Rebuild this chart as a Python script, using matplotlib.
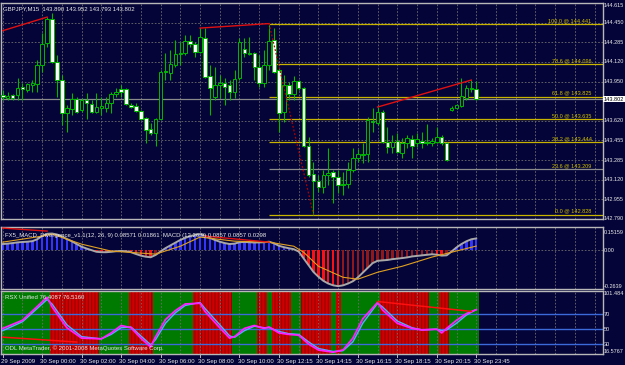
import numpy as np
import matplotlib.pyplot as plt
from matplotlib.patches import Rectangle
from matplotlib.transforms import blended_transform_factory as blend

# ---- price data (GBPJPY M15), one row per bar ----
opens = [143.837, 143.812, 143.837, 143.837, 143.905, 143.879, 143.922, 143.930, 144.091, 144.277,
         144.479, 144.116, 143.964, 143.685, 143.719, 143.803, 143.710, 143.795, 143.761, 143.694,
         143.727, 143.727, 143.770, 143.846, 143.888, 143.888, 143.753, 143.744, 143.702, 143.643,
         143.550, 143.516, 143.634, 144.040, 144.023, 144.091, 144.184, 144.192, 144.294, 144.268,
         144.201, 144.319, 143.998, 143.820, 143.922, 143.939, 143.922, 143.863, 143.981, 144.226,
         144.192, 144.192, 144.074, 143.939, 144.091, 144.302, 144.048, 143.694, 143.922, 143.846,
         143.956, 143.896, 143.406, 143.170, 143.111, 143.060, 143.161, 143.187, 143.144, 143.085,
         143.085, 143.203, 143.305, 143.330, 143.339, 143.618, 143.601, 143.694, 143.440, 143.398,
         143.449, 143.347, 143.432, 143.465, 143.432, 143.449, 143.440, 143.432, 143.440, 143.482,
         143.432, 143.710, 143.727, 143.744, 143.812, 143.888, 143.890]
highs = [143.879, 143.863, 143.846, 143.981, 143.939, 143.939, 143.964, 144.133, 144.361, 144.496,
         144.530, 144.175, 144.006, 143.753, 143.854, 143.820, 143.812, 143.854, 143.795, 143.854,
         143.820, 143.820, 143.863, 143.896, 143.922, 143.896, 143.770, 143.770, 143.710, 143.651,
         143.601, 143.643, 144.048, 144.192, 144.217, 144.302, 144.285, 144.344, 144.344, 144.285,
         144.403, 144.403, 144.091, 144.074, 144.006, 143.981, 143.964, 144.048, 144.319, 144.319,
         144.327, 144.201, 144.175, 144.217, 144.441, 144.403, 144.065, 144.006, 143.947, 143.998,
         143.964, 143.905, 143.482, 143.271, 143.161, 143.203, 143.389, 143.203, 143.203, 143.187,
         143.271, 143.389, 143.381, 143.432, 143.651, 143.727, 143.736, 143.710, 143.567, 143.499,
         143.516, 143.474, 143.499, 143.499, 143.516, 143.525, 143.592, 143.474, 143.567, 143.499,
         143.440, 143.744, 143.761, 143.981, 143.922, 143.964, 143.952]
lows = [143.795, 143.795, 143.795, 143.795, 143.795, 143.863, 143.863, 143.863, 144.032, 144.243,
        144.108, 143.820, 143.584, 143.525, 143.668, 143.685, 143.694, 143.634, 143.685, 143.685,
        143.668, 143.694, 143.685, 143.820, 143.820, 143.753, 143.727, 143.694, 143.626, 143.432,
        143.499, 143.406, 143.626, 143.964, 143.964, 144.074, 144.091, 144.175, 144.243, 144.158,
        144.192, 143.981, 143.668, 143.795, 143.812, 143.753, 143.795, 143.812, 143.964, 144.158,
        144.175, 143.964, 143.905, 143.905, 144.048, 144.023, 143.525, 143.609, 143.795, 143.795,
        143.879, 143.398, 143.144, 142.828, 143.018, 143.009, 143.077, 142.925, 143.009, 142.992,
        143.051, 143.187, 143.271, 143.263, 143.271, 143.525, 143.584, 143.432, 143.347, 143.347,
        143.347, 143.305, 143.389, 143.305, 143.398, 143.389, 143.415, 143.406, 143.432, 143.415,
        143.280, 143.702, 143.719, 143.736, 143.795, 143.863, 143.793]
closes = [143.820, 143.829, 143.812, 143.896, 143.888, 143.930, 143.939, 144.091, 144.268, 144.479,
          144.116, 143.964, 143.685, 143.727, 143.803, 143.694, 143.795, 143.770, 143.694, 143.736,
          143.744, 143.770, 143.846, 143.863, 143.863, 143.761, 143.736, 143.702, 143.634, 143.541,
          143.516, 143.634, 144.032, 144.032, 144.099, 144.184, 144.192, 144.294, 144.268, 144.201,
          144.327, 143.989, 143.896, 143.922, 143.939, 143.905, 143.863, 143.972, 144.285, 144.192,
          144.184, 144.074, 143.939, 144.091, 144.294, 144.032, 143.685, 143.922, 143.846, 143.956,
          143.896, 143.406, 143.161, 143.111, 143.060, 143.161, 143.178, 143.144, 143.077, 143.077,
          143.203, 143.305, 143.339, 143.339, 143.626, 143.609, 143.694, 143.440, 143.398, 143.440,
          143.356, 143.432, 143.474, 143.406, 143.465, 143.432, 143.432, 143.449, 143.482, 143.432,
          143.288, 143.727, 143.753, 143.829, 143.896, 143.896, 143.802]

price_ticks = [144.615, 144.450, 144.285, 144.120, 143.950, 143.620, 143.455, 143.285, 143.120, 142.955, 142.790]
last_price = 143.802

fib_start = 54
fib_levels = [144.441, 144.096, 143.825, 143.635, 143.444, 143.209, 142.828]
fib_names = ["100.0 @ 144.441", "78.6 @ 144.096", "61.8 @ 143.825", "50.0 @ 143.635",
             "38.2 @ 143.444", "23.6 @ 143.209", "0.0 @ 142.828"]

# divergence lines on price (bar, price)
price_div = [[(0, 144.381), (9, 144.496)],
             [(40, 144.403), (54, 144.441)],
             [(76, 143.736), (95, 143.964)]]
price_drop = [(54, 144.441), (63, 142.828)]

# ---- MACD ----
macd = [0.045, 0.048, 0.052, 0.057, 0.060, 0.062, 0.066, 0.080, 0.105, 0.120,
        0.122, 0.115, 0.100, 0.082, 0.065, 0.045, 0.025, 0.012, 0.000, -0.012,
        -0.015, -0.015, -0.012, -0.008, -0.006, -0.008, -0.015, -0.028, -0.040, -0.048,
        -0.052, -0.035, -0.010, 0.015, 0.035, 0.055, 0.075, 0.090, 0.103, 0.112,
        0.118, 0.105, 0.090, 0.075, 0.062, 0.052, 0.045, 0.048, 0.058, 0.060,
        0.058, 0.056, 0.057, 0.058, 0.062, 0.050, 0.032, 0.022, 0.014, 0.007,
        -0.010, -0.060, -0.110, -0.160, -0.195, -0.225, -0.245, -0.258, -0.264, -0.258,
        -0.245, -0.228, -0.200, -0.165, -0.130, -0.095, -0.078, -0.075, -0.072, -0.066,
        -0.062, -0.058, -0.053, -0.046, -0.042, -0.038, -0.034, -0.030, -0.033, -0.040,
        -0.038, -0.010, 0.020, 0.045, 0.065, 0.080, 0.086]
sig_bars = [0, 8, 10, 16, 22, 31, 36, 40, 47, 54, 59, 61, 64, 69, 72, 76, 81, 87, 96]
sig_vals = [0.059, 0.103, 0.118, 0.044, -0.007, -0.029, 0.029, 0.096, 0.066, 0.059,
            0.029, -0.015, -0.118, -0.199, -0.213, -0.162, -0.118, -0.051, 0.030]
macd_div = [[(0, 0.162), (9, 0.140)], [(41, 0.103), (54, 0.059)]]
macd_ticks = [0.15159, 0.0, -0.2639]
macd_tick_labels = ["0.15159", "0.00", "-0.2639"]

# ---- RSX ----
rsx_bars = [0, 4, 9, 10, 13, 16, 20, 22, 24, 26, 28, 30, 31, 33, 35, 37, 40, 41, 44, 46,
            47, 49, 51, 53, 54, 56, 58, 60, 62, 64, 67, 69, 71, 73, 76, 77, 80, 83, 85, 88,
            89, 90, 92, 94, 96]
rsx_main = [51, 62, 93, 80, 52, 38, 37, 45, 55, 52, 38, 26, 40, 63, 75, 84, 85, 74, 52, 38,
            40, 51, 55, 51, 53, 45, 43, 42, 30, 22, 19, 22, 38, 64, 86, 76, 58, 51, 49, 50,
            45, 51, 62, 71, 76.4]
rsx_sig = [48, 60, 90, 84, 56, 40, 37, 43, 52, 53, 41, 29, 36, 58, 72, 82, 86, 78, 56, 41,
           39, 48, 54, 52, 52, 47, 44, 43, 33, 24, 20, 21, 33, 58, 85, 80, 61, 52, 49, 50,
           48, 49, 58, 69, 76.5]
rsx_levels = [70, 50, 30]
rsx_div = [[(0, 39.3), (15, 32.7)], [(76, 87.3), (95, 74.0)]]
trend_segments = [(0, 9, 'up'), (10, 19, 'dn'), (20, 25, 'up'), (26, 30, 'dn'), (31, 38, 'up'),
                  (39, 46, 'dn'), (47, 51, 'up'), (52, 53, 'dn'), (54, 54, 'up'), (55, 58, 'dn'),
                  (59, 60, 'up'), (61, 66, 'dn'), (67, 67, 'up'), (68, 68, 'dn'), (69, 76, 'up'),
                  (77, 86, 'dn'), (87, 88, 'up'), (89, 90, 'dn'), (91, 96, 'up')]
rsx_ticks = [101.484, 70, 50, 30, 16.5767]
rsx_tick_labels = ["101.484", "70", "50", "30", "16.5767"]

time_bars = [0, 8, 16, 24, 32, 40, 48, 56, 64, 72, 80, 88, 96]
time_labels = ["29 Sep 2009", "30 Sep 00:00", "30 Sep 02:00", "30 Sep 04:00", "30 Sep 06:00",
               "30 Sep 08:00", "30 Sep 10:00", "30 Sep 12:15", "30 Sep 14:15", "30 Sep 16:15",
               "30 Sep 18:15", "30 Sep 20:15", "30 Sep 23:45"]

# ---- drawing ----
W, H = 625, 365
BG = '#040438'
FRAME = '#b8b8b8'
GRID = '#6e6e6e'
TXT = '#e8e8e8'
FS = 4.3
FS_AX = 4.0   # right-hand price column is narrow
plt.rcParams['font.family'] = ['Liberation Sans', 'DejaVu Sans']
plt.rcParams['hatch.linewidth'] = 0.7

fig = plt.figure(figsize=(W / 100, H / 100), dpi=100, facecolor=BG)


def px_rect(x0, y0, x1, y1):
    return [x0 / W, 1 - y1 / H, (x1 - x0) / W, (y1 - y0) / H]


XL = (-0.35, 121.7)


def setup(ax):
    ax.set_facecolor(BG)
    ax.set_xlim(*XL)
    ax.set_xticks([])
    ax.set_yticks([])
    for s in ax.spines.values():
        s.set_color(FRAME)
        s.set_linewidth(1.0)
    for k in range(0, 122, 4):
        ax.axvline(k, color=GRID, lw=0.6, ls=(0, (2, 2)), zorder=1)


def right_labels(ax, vals, labels, **kw):
    tr = blend(ax.transAxes, ax.transData)
    for v, t in zip(vals, labels):
        ax.text(1.0015, v, t, transform=tr, color=TXT, fontsize=FS_AX, ha='left', clip_on=False, **kw)


# main price panel
ax = fig.add_axes(px_rect(1, 3, 603, 219))
setup(ax)
ax.set_ylim(142.790, 144.615)
for p in price_ticks:
    ax.axhline(p, color=GRID, lw=0.6, ls=(0, (2, 2)), zorder=1)
ax.axhline(last_price, color='#8a8a8a', lw=0.9, zorder=1.5)

for lev, name in zip(fib_levels, fib_names):
    col = '#8a8a8a' if name.startswith('23.6') else '#c8b400'
    ax.hlines(lev, fib_start, XL[1], color=col, lw=0.9, zorder=1.6)
    ax.text(119.4, lev + 0.006, name, color='#d0c000', fontsize=FS - 0.3, ha='right', va='bottom', zorder=5)

WICK = '#00b800'
for i, (o, h, l, c) in enumerate(zip(opens, highs, lows, closes)):
    ax.vlines(i, l, h, color=WICK, lw=0.8, zorder=3)
    lo, hi = min(o, c), max(o, c)
    if hi - lo < 0.005:
        ax.hlines(o, i - 0.35, i + 0.35, color='#40ff40', lw=1.0, zorder=4)
    else:
        face = 'white' if c < o else BG
        ax.add_patch(Rectangle((i - 0.36, lo), 0.72, hi - lo, facecolor=face,
                               edgecolor=WICK, lw=0.7, zorder=4))

for seg in price_div:
    xs, ys = zip(*seg)
    ax.plot(xs, ys, color='#e01010', lw=1.0, zorder=5)
xs, ys = zip(*price_drop)
ax.plot(xs, ys, color='#b00000', lw=0.9, ls=(0, (1.5, 1.5)), zorder=5)

right_labels(ax, price_ticks[:1], [f"{price_ticks[0]:.3f}"], va='top')
right_labels(ax, price_ticks[1:], [f"{p:.3f}" for p in price_ticks[1:]], va='center')
ax.text(1.0015, last_price, f"{last_price:.3f}", transform=blend(ax.transAxes, ax.transData),
        fontsize=FS_AX, color='black', va='center', ha='left', clip_on=False,
        bbox=dict(boxstyle='square,pad=0.1', fc='white', ec='none'))
ax.text(0.004, 0.985, "GBPJPY,M15  143.890 143.952 143.793 143.802", transform=ax.transAxes,
        color=TXT, fontsize=FS, va='top', ha='left')

# MACD panel
am = fig.add_axes(px_rect(1, 227, 603, 289))
setup(am)
am.set_ylim(-0.285, 0.170)
am.axhline(0, color=GRID, lw=0.6, ls=(0, (2, 2)), zorder=1)
bar_cols = []
for i, v in enumerate(macd):
    if v >= 0:
        bar_cols.append('#3434ff')
    elif i > 0 and v > macd[i - 1]:
        bar_cols.append('#901818')
    else:
        bar_cols.append('#ff1010')
am.bar(range(len(macd)), macd, width=0.5, color=bar_cols, zorder=2)
am.plot(range(len(macd)), macd, color='#a8a8a8', lw=1.4, zorder=3)
am.plot(sig_bars, sig_vals, color='#e0a020', lw=0.8, zorder=4)
for seg in macd_div:
    xs, ys = zip(*seg)
    am.plot(xs, ys, color='#e01010', lw=1.0, zorder=5)
right_labels(am, macd_ticks[:1], macd_tick_labels[:1], va='top')
right_labels(am, macd_ticks[1:], macd_tick_labels[1:], va='center')
am.text(0.006, 0.86, "FX5_MACD_Divergence_v1.1(12, 26, 9) 0.08571 0.01861  MACD (12,26,9) 0.0857 0.0857 0.0298",
        transform=am.transAxes, color=TXT, fontsize=FS, va='center', ha='left', zorder=6)

# RSX panel
ar = fig.add_axes(px_rect(1, 291, 603, 354))
setup(ar)
ar.set_ylim(16.5767, 101.484)
for s, e, kind in trend_segments:
    if kind == 'up':
        ar.axvspan(s - 0.5, e + 0.5, facecolor='#007a00', edgecolor='none', zorder=0.5)
    else:
        ar.axvspan(s - 0.5, e + 0.5, facecolor='#d00000', edgecolor='#8a0000', hatch='|||||',
                   lw=0, zorder=0.5)
for lv in rsx_levels:
    ar.axhline(lv, color='#3c6ad8', lw=1.0, zorder=2)
ar.plot(rsx_bars, rsx_sig, color='#50b0ff', lw=1.0, zorder=3)
ar.plot(rsx_bars, rsx_main, color='#ff20ff', lw=1.3, zorder=4)
for seg in rsx_div:
    xs, ys = zip(*seg)
    ar.plot(xs, ys, color='#ff1010', lw=1.1, zorder=5)
right_labels(ar, rsx_ticks[:1], rsx_tick_labels[:1], va='top')
right_labels(ar, rsx_ticks[1:4], rsx_tick_labels[1:4], va='center')
right_labels(ar, rsx_ticks[4:], rsx_tick_labels[4:], va='bottom')
ar.text(0.006, 0.89, "RSX Unified 76.4087 76.5160", transform=ar.transAxes, color=TXT,
        fontsize=FS, va='center', ha='left', zorder=6)
ar.text(0.006, 0.09, "ODL MetaTrader, \u00a9 2001-2008 MetaQuotes Software Corp.", transform=ar.transAxes,
        color=TXT, fontsize=FS, va='center', ha='left', zorder=6)

# time axis
trx = blend(ar.transData, ar.transAxes)
for b, t in zip(time_bars, time_labels):
    ar.plot([b, b], [0, -0.05], transform=trx, color=FRAME, lw=0.7, clip_on=False)
    ar.text(b - 0.4, -0.08, t, transform=trx, color=TXT, fontsize=FS, ha='left', va='top', clip_on=False)

fig.savefig('out.png', dpi=100, facecolor=BG)
